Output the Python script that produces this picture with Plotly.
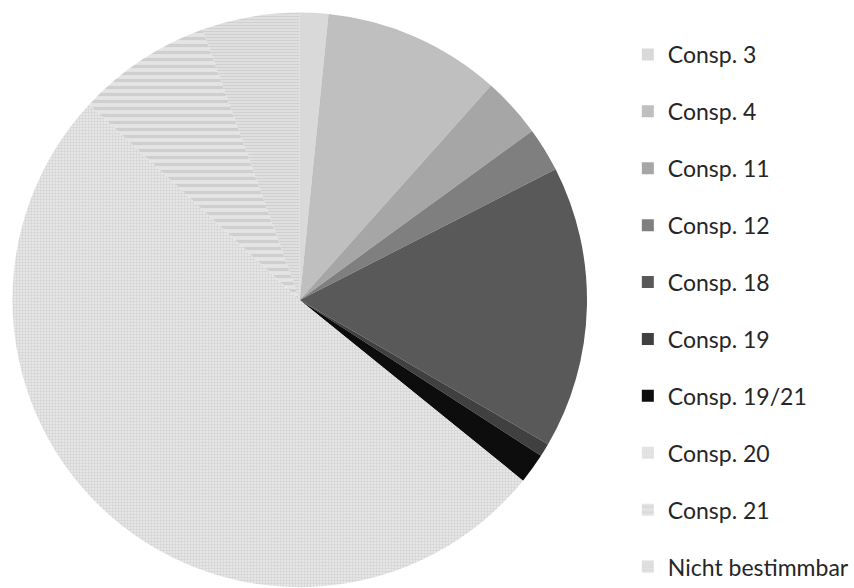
import plotly.graph_objects as go

labels = ["Consp. 3", "Consp. 4", "Consp. 11", "Consp. 12", "Consp. 18",
          "Consp. 19", "Consp. 19/21", "Consp. 20", "Consp. 21", "Nicht bestimmbar"]
values = [1.6, 10.0, 3.4, 2.5, 15.9, 0.75, 1.7, 51.1, 7.6, 5.5]

colors = ["#d9d9d9", "#bfbfbf", "#a6a6a6", "#7f7f7f", "#595959",
          "#404040", "#0d0d0d", "#e6e6e6", "#e4e4e4", "#e2e2e2"]
shapes = ["", "", "", "", "", "", "", "+", "-", "-"]
fgcolors = ["#000000"] * 7 + ["#d2d2d2", "#cfcfcf", "#d0d0d0"]
sizes = [8] * 7 + [3, 7, 3]
solid = [0.3] * 7 + [0.35, 0.45, 0.45]

fig = go.Figure()
fig.add_trace(go.Pie(
    labels=labels, values=values, sort=False, direction="clockwise", rotation=0,
    textinfo="none", showlegend=False,
    marker=dict(colors=colors, line=dict(width=0),
                pattern=dict(shape=shapes, fgcolor=fgcolors, bgcolor=colors,
                             size=sizes, solidity=solid)),
    domain=dict(x=[0.0147, 0.6914], y=[0.0, 0.98]),
))

for lab, c, s, fg, sz, so in zip(labels, colors, shapes, fgcolors, sizes, solid):
    fig.add_trace(go.Bar(
        x=[None], y=[None], name=lab, legendgroup=lab, hoverinfo="skip",
        marker=dict(color=c, line=dict(width=0),
                    pattern=dict(shape=s, fgcolor=fg, bgcolor=c, size=sz, solidity=so)),
    ))

fig.update_layout(
    width=854, height=588,
    margin=dict(l=0, r=0, t=0, b=0),
    paper_bgcolor="white", plot_bgcolor="white",
    xaxis=dict(visible=False), yaxis=dict(visible=False),
    legend=dict(x=0.7395, y=0.9321, xanchor="left", yanchor="top",
                tracegroupgap=24, bgcolor="rgba(0,0,0,0)",
                font=dict(family="Lato", size=23, color="#262626")),
)

fig.write_html("out.html")
